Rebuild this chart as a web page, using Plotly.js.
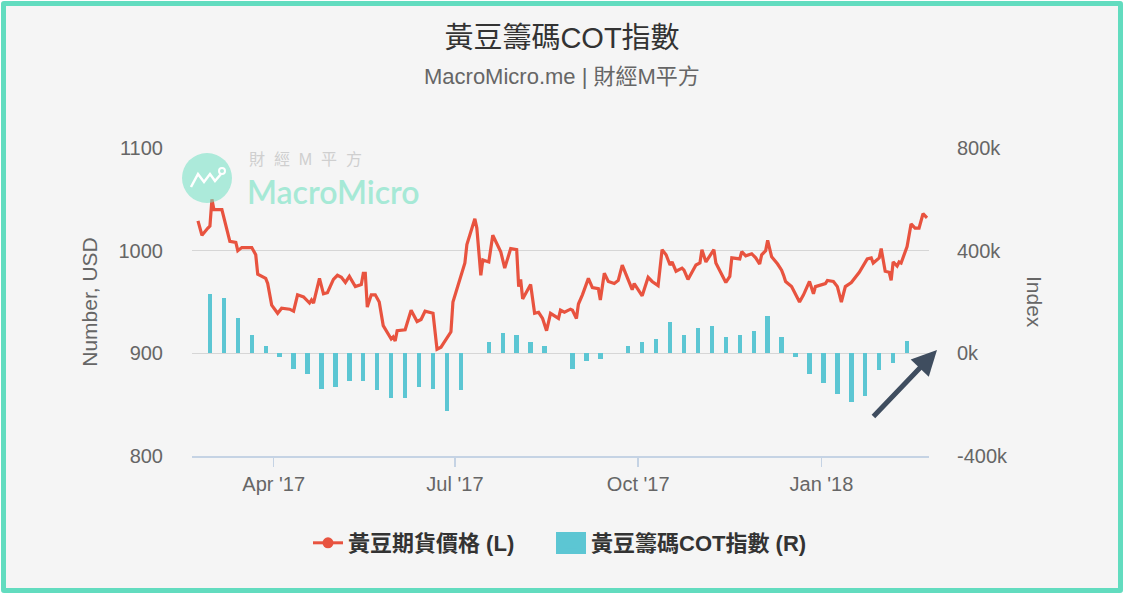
<!DOCTYPE html>
<html><head><meta charset="utf-8">
<script src="https://cdn.plot.ly/plotly-3.0.1.min.js"></script>
<style>
html,body{margin:0;padding:0;background:#fff;}
#wrap{position:relative;width:1124px;height:598px;overflow:hidden;}
#chart{position:absolute;left:0;top:0;width:1124px;height:598px;}
#frame{position:absolute;left:1px;top:1px;width:1112px;height:582px;border:5px solid #62dcbf;border-radius:3px;box-shadow:0 0 0 30px #fff;pointer-events:none;}
</style></head>
<body><div id="wrap"><div id="chart"></div><div id="frame"></div></div>
<script>
const priceName = '黃豆期貨價格 (L)';
const cotName = '黃豆籌碼COT指數 (R)';

const priceDates = [
'2017-02-22','2017-02-24','2017-02-27','2017-02-28','2017-03-01','2017-03-02','2017-03-06','2017-03-08','2017-03-10','2017-03-13',
'2017-03-14','2017-03-16','2017-03-21','2017-03-23','2017-03-24','2017-03-28','2017-03-29','2017-03-31','2017-04-03','2017-04-05',
'2017-04-09','2017-04-11','2017-04-13','2017-04-16','2017-04-19','2017-04-20','2017-04-21','2017-04-24','2017-04-26','2017-04-28',
'2017-05-01','2017-05-03','2017-05-05','2017-05-07','2017-05-09','2017-05-12','2017-05-15','2017-05-16','2017-05-17','2017-05-18',
'2017-05-20','2017-05-22','2017-05-24','2017-05-26','2017-05-30','2017-05-31','2017-06-01','2017-06-02','2017-06-06','2017-06-09',
'2017-06-12','2017-06-14','2017-06-16','2017-06-20','2017-06-22','2017-06-24','2017-06-29','2017-06-30','2017-07-03','2017-07-06',
'2017-07-07','2017-07-11','2017-07-12','2017-07-14','2017-07-15','2017-07-18','2017-07-20','2017-07-24','2017-07-26','2017-07-29',
'2017-08-01','2017-08-02','2017-08-03','2017-08-04','2017-08-08','2017-08-10','2017-08-12','2017-08-14','2017-08-16','2017-08-18',
'2017-08-22','2017-08-23','2017-08-25','2017-08-28','2017-08-29','2017-08-31','2017-09-01','2017-09-03','2017-09-06','2017-09-08',
'2017-09-11','2017-09-12','2017-09-14','2017-09-16','2017-09-19','2017-09-21','2017-09-23','2017-09-25','2017-09-27','2017-09-28',
'2017-09-29','2017-10-03','2017-10-06','2017-10-08','2017-10-11','2017-10-13','2017-10-15','2017-10-17','2017-10-18','2017-10-20',
'2017-10-23','2017-10-24','2017-10-26','2017-10-30','2017-11-01','2017-11-02','2017-11-04','2017-11-08','2017-11-09','2017-11-10',
'2017-11-14','2017-11-16','2017-11-17','2017-11-21','2017-11-22','2017-11-24','2017-11-27','2017-11-29','2017-12-01','2017-12-02',
'2017-12-04','2017-12-05','2017-12-07','2017-12-10','2017-12-12','2017-12-13','2017-12-14','2017-12-17','2017-12-19','2017-12-21',
'2017-12-23','2017-12-26','2017-12-28','2017-12-29','2018-01-03','2018-01-04','2018-01-07','2018-01-09','2018-01-11','2018-01-13',
'2018-01-16','2018-01-20','2018-01-24','2018-01-26','2018-01-27','2018-01-30','2018-01-31','2018-02-01','2018-02-02','2018-02-04',
'2018-02-05','2018-02-06','2018-02-08','2018-02-09','2018-02-10','2018-02-13','2018-02-15','2018-02-17','2018-02-19','2018-02-21',
'2018-02-23'
];
const priceValues = [
1029,1015,1022,1024,1050,1040,1040,1023,1009,1008,
1000,1003,1003,996,977,973,968,947,939,944,
943,941,957,955,949,952,949,973,958,959,
972,976,974,969,975,965,967,978,978,945,
957,957,950,927,914,916,912,922,923,942,
931,933,941,939,904,906,921,950,969,988,
1006,1031,1022,976,991,989,1015,999,983,1002,
1001,965,972,953,967,939,940,934,922,939,
934,942,940,943,942,934,948,957,973,964,
963,952,978,970,968,971,986,976,965,962,
968,956,974,970,966,1001,996,986,989,980,
983,981,972,986,988,1001,989,1001,988,984,
969,975,993,992,999,995,997,993,987,996,
1000,1010,994,987,981,976,970,965,957,950,
957,970,958,965,968,971,970,965,950,965,
969,979,992,993,988,993,1002,991,980,979,
971,989,985,989,988,1004,1026,1022,1022,1036,
1032
];

const cotDates = [
'2017-02-28','2017-03-07','2017-03-14','2017-03-21','2017-03-28','2017-04-04','2017-04-11','2017-04-18','2017-04-25','2017-05-02',
'2017-05-09','2017-05-16','2017-05-23','2017-05-30','2017-06-06','2017-06-13','2017-06-20','2017-06-27','2017-07-04','2017-07-11',
'2017-07-18','2017-07-25','2017-08-01','2017-08-08','2017-08-15','2017-08-22','2017-08-29','2017-09-05','2017-09-12','2017-09-19',
'2017-09-26','2017-10-03','2017-10-10','2017-10-17','2017-10-24','2017-10-31','2017-11-07','2017-11-14','2017-11-21','2017-11-28',
'2017-12-05','2017-12-12','2017-12-19','2017-12-26','2018-01-02','2018-01-09','2018-01-16','2018-01-23','2018-01-30','2018-02-06',
'2018-02-13'
];
const cotValues = [
230000,215000,136000,71000,28000,-16000,-60000,-80000,-138000,-131000,
-108000,-108000,-144000,-174000,-174000,-131000,-139000,-225000,-144000,0,
44000,81000,73000,44000,28000,0,-60000,-30000,-23000,0,
28000,44000,57000,124000,73000,100000,108000,65000,73000,87000,
144000,65000,-16000,-80000,-117000,-160000,-190000,-168000,-66000,-38000,
50000
];

const xTickVals = ['2017-04-01','2017-07-01','2017-10-01','2018-01-01'];
const xTickText = ["Apr '17","Jul '17","Oct '17","Jan '18"];
const yTickVals = [800,900,1000,1100];
const y2TickVals = [-400000,0,400000,800000];
const y2TickText = ['-400k','0k','400k','800k'];

const FONT = '"Liberation Sans", Arial, "Noto Sans CJK TC", sans-serif';
const RED = '#e8533f';
const TEAL = '#5cc6d3';

const traces = [
  {type:'scatter', mode:'lines+markers', x:[null], y:[null], name:priceName,
   line:{color:RED, width:3}, marker:{color:RED, size:11}, showlegend:true, legendwidth:198},
  {type:'scatter', mode:'lines', x:priceDates, y:priceValues, name:priceName,
   line:{color:RED, width:3.2}, showlegend:false, yaxis:'y'},
  {type:'bar', x:cotDates, y:cotValues, name:cotName, yaxis:'y2',
   width:2.2*86400000, marker:{color:TEAL, line:{width:0}}}
];

const px = v => (v-192)/737;
const py = v => (456-v)/308;

const layout = {
  width:1124, height:598,
  paper_bgcolor:'#f5f5f5', plot_bgcolor:'#f5f5f5',
  margin:{l:192, r:195, t:148, b:142},
  font:{family:FONT, color:'#666'},
  hovermode:false,
  title:{text:'黃豆籌碼COT指數', x:0.5, xref:'container', xanchor:'center',
         y:1-38/598, yref:'container', yanchor:'middle',
         font:{size:29, color:'#333', family:FONT}},
  xaxis:{type:'date', range:['2017-02-19','2018-02-24'],
         tickvals:xTickVals, ticktext:xTickText,
         showgrid:false, zeroline:false,
         showline:true, linecolor:'#c5d3e4', linewidth:1.5,
         ticks:'outside', ticklen:9, tickcolor:'#c5d3e4', tickwidth:1.5,
         ticklabelstandoff:0,
         tickfont:{size:20, color:'#666', family:FONT}},
  yaxis:{range:[800,1100], tickvals:yTickVals, showgrid:true,
         gridcolor:'#d6d6d6', gridwidth:1, zeroline:false, showline:false,
         ticks:'', ticklabelstandoff:28,
         tickfont:{size:20, color:'#666', family:FONT},
         title:{text:'Number, USD', standoff:15, font:{size:21, color:'#666', family:FONT}}},
  yaxis2:{range:[-400000,800000], overlaying:'y', side:'right',
          tickvals:y2TickVals, ticktext:y2TickText,
          showgrid:false, zeroline:false, showline:false,
          ticks:'', ticklabelstandoff:27,
          tickfont:{size:20, color:'#666', family:FONT}},
  legend:{orientation:'h', x:px(308), xanchor:'left', y:py(543), yanchor:'middle',
          bgcolor:'rgba(0,0,0,0)',
          font:{size:22, color:'#333', family:FONT, weight:'bold'}},
  bargap:0,
  shapes:[
    {type:'circle', xref:'paper', yref:'paper', xsizemode:'pixel', ysizemode:'pixel',
     xanchor:px(207), yanchor:py(178), x0:-25, x1:25, y0:-25, y1:25,
     fillcolor:'rgba(112,224,195,0.55)', line:{width:0}, layer:'above'},
    {type:'path', xref:'paper', yref:'paper', xsizemode:'pixel', ysizemode:'pixel',
     xanchor:px(207), yanchor:py(178),
     path:'M -16,-9 L -9,4 L -3,-4 L 3,4 L 8,-3 L 14,4',
     line:{color:'#ffffff', width:2.5}, layer:'above'},
    {type:'circle', xref:'paper', yref:'paper', xsizemode:'pixel', ysizemode:'pixel',
     xanchor:px(207), yanchor:py(178), x0:12, x1:18, y0:4, y1:10,
     line:{color:'#ffffff', width:2}, layer:'above'},
    {type:'rect', xref:'paper', yref:'paper', xsizemode:'pixel', ysizemode:'pixel',
     xanchor:px(571), yanchor:py(543), x0:-15, x1:15, y0:-11, y1:11,
     fillcolor:TEAL, line:{width:0}, layer:'above'}
  ],
  annotations:[
    {text:'MacroMicro.me | 財經M平方', xref:'paper', yref:'paper', x:px(562), y:py(77),
     xanchor:'center', yanchor:'middle', showarrow:false,
     font:{size:22, color:'#666', family:FONT}},
    {text:'Index', xref:'paper', yref:'paper', x:px(1035), y:py(302),
     xanchor:'center', yanchor:'middle', showarrow:false, textangle:90,
     font:{size:21, color:'#666', family:FONT}},
    {text:'財\u00a0\u00a0經\u00a0\u00a0M\u00a0\u00a0平\u00a0\u00a0方', xref:'paper', yref:'paper',
     x:px(305), y:py(159), xanchor:'center', yanchor:'middle', showarrow:false,
     font:{size:16, color:'#cfcfcf', family:FONT}},
    {text:'MacroMicro', xref:'paper', yref:'paper', x:px(333), y:py(191),
     xanchor:'center', yanchor:'middle', showarrow:false,
     font:{size:32, color:'#a6e9d6', family:'Lato, "Open Sans", sans-serif', weight:600}},
    {text:'', xref:'paper', yref:'paper', x:px(937), y:py(350),
     showarrow:true, ax:-65, ay:68, arrowhead:2, arrowsize:1, arrowwidth:5,
     arrowcolor:'#3f4d5f', standoff:0, startstandoff:0}
  ]
};

Plotly.newPlot('chart', traces, layout, {displayModeBar:false, staticPlot:true});
</script></body></html>
